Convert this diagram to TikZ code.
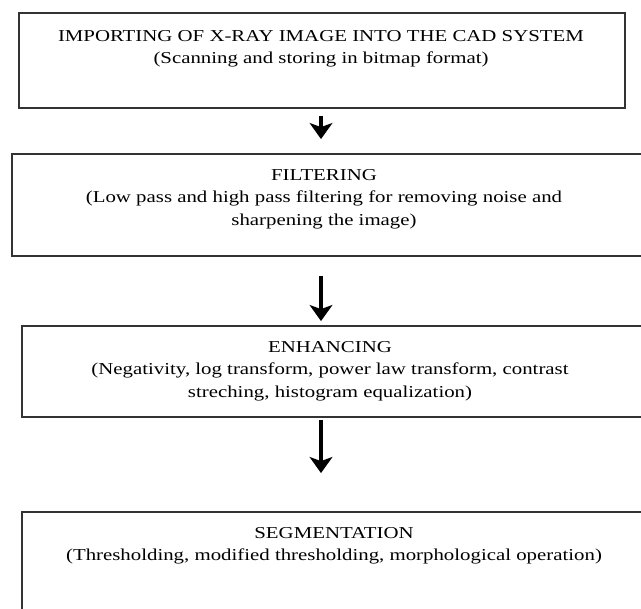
\documentclass[tikz,border=0pt]{standalone}
\usepackage{fontspec}
\setmainfont[FakeStretch=1.25]{Liberation Serif}
\usetikzlibrary{positioning,fit,arrows.meta}

\begin{document}
\begin{tikzpicture}
  [x=0.75pt,y=-0.75pt,
   box/.style={draw=black!80,line width=1.4pt,inner sep=0pt},
   txt/.style={align=center,inner sep=0pt,anchor=north,font=\fontsize{12.5}{17}\selectfont},
   flow/.style={line width=2.4pt,-{Stealth[length=12pt,width=17pt,inset=3pt]}}]
  \useasboundingbox (0,0) rectangle (641,608);
  \clip (0,0) rectangle (641,608);

  \node (import)  [box,fit={(19,13) (625,108)}]  {};
  \node (filter)  [box,fit={(12,154) (650,256)}] {};
  \node (enhance) [box,fit={(22,326) (650,417)}] {};
  \node (segment) [box,fit={(22,512) (650,625)}] {};
  \coordinate (axis) at (321,0);

  \node (importtxt)  [txt] at (321,30)  {IMPORTING OF X-RAY IMAGE INTO THE CAD SYSTEM\\(Scanning and storing in bitmap format)};
  \node (filtertxt)  [txt] at (324,169) {FILTERING\\(Low pass and high pass filtering for removing noise and\\sharpening the image)};
  \node (enhancetxt) [txt] at (330,341) {ENHANCING\\(Negativity, log transform, power law transform, contrast\\streching, histogram equalization)};
  \node (segmenttxt) [txt] at (334,527) {SEGMENTATION\\(Thresholding, modified thresholding, morphological operation)};

\foreach \from/\to/\sa/\sb in
{import/filter/5pt/10.5pt, filter/enhance/14pt/3pt, enhance/segment/1.5pt/28.5pt}
    \draw[flow,shorten <=\sa,shorten >=\sb] (\from.south -| axis) -- (\to.north -| axis);
\end{tikzpicture}
\end{document}
